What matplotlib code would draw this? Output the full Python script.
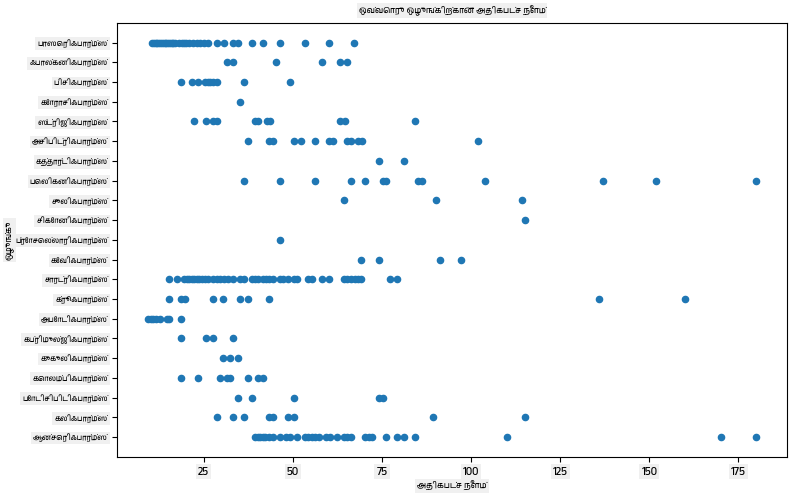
import numpy as np
import matplotlib
matplotlib.use("Agg")
import matplotlib.pyplot as plt
from matplotlib import font_manager

# pick a Tamil capable font if one is installed
tamil = [f.name for f in font_manager.fontManager.ttflist if "Tamil" in f.name]
plt.rcParams['font.family'] = tamil[:1] + ['DejaVu Sans']

# orders, bottom to top (same order the category axis draws them)
orders = [
    "ஆன்செரிஃபார்ம்ஸ்", "கலிஃபார்ம்ஸ்", "போடிசிபிடிஃபார்ம்ஸ்", "கொலம்பிஃபார்ம்ஸ்",
    "குகுலிஃபார்ம்ஸ்", "கப்ரிமுல்ஜிஃபார்ம்ஸ்", "அபோடிஃபார்ம்ஸ்", "க்ரூஃபார்ம்ஸ்",
    "சாரட்ரிஃபார்ம்ஸ்", "கேவிஃபார்ம்ஸ்", "ப்ரோசெல்லாரிஃபார்ம்ஸ்", "சிகோனிஃபார்ம்ஸ்",
    "சுலிஃபார்ம்ஸ்", "பெலிகனிஃபார்ம்ஸ்", "கத்தார்டிஃபார்ம்ஸ்", "அசிபிட்ரிஃபார்ம்ஸ்",
    "ஸ்ட்ரிஜிஃபார்ம்ஸ்", "கோராசிஃபார்ம்ஸ்", "பிசிஃபார்ம்ஸ்", "ஃபால்கனிஃபார்ம்ஸ்",
    "பாஸெரிஃபார்ம்ஸ்",
]

anseriformes = [39.3, 40.1, 40.7, 41.5, 42.2, 43.4, 44.5, 46.5, 48.2, 49.1, 51.3, 53.5,
                54.3, 55.5, 56.3, 57.4, 59.4, 60.3, 62.5, 64.4, 65.2, 66.4, 70.3, 71.4,
                72.2, 76.2, 79.2, 81.2, 84.3, 110, 170, 180]
galliformes = [28.6, 33.3, 36.4, 43.4, 44.5, 48.7, 50.4, 89.3, 115]
podicipediformes = [34.5, 38.4, 50.4, 74.2, 75.3]
columbiformes = [18.5, 23.5, 29.5, 31.4, 32.5, 37.5, 40.3, 41.5]
cuculiformes = [30.5, 32.5, 34.5]
caprimulgiformes = [18.5, 25.5, 27.5, 33.3]
apodiformes = [9.3, 10.2, 10.9, 11.5, 12.7, 14.6, 15.3, 18.5]
gruiformes = [15.3, 18.5, 19.7, 27.5, 30.5, 35.3, 37.5, 43.4, 136, 160]
charadriiformes = [15.3, 17.4, 19.5, 20.2, 20.8, 21.6, 22.3, 23.1, 23.8, 24.6, 25.3, 26.1,
                   27.5, 28.6, 29.5, 30.7, 31.9, 33.3, 35.3, 36.4, 38.4, 39.5, 40.2, 41.5,
                   42.6, 43.3, 44.5, 46.5, 47.2, 48.5, 50.4, 51.3, 54.3, 55.5, 58.3, 60.1,
                   64.4, 65.2, 66.4, 67.4, 68.4, 69.2, 77.3, 79.2]
gaviiformes = [69.2, 74.2, 91.3, 97.2]
procellariiformes = [46.5]
ciconiiformes = [115]
suliformes = [64.4, 90.2, 114.2]
pelecaniformes = [36.4, 46.5, 56.3, 66.4, 70.3, 75.2, 76.0, 85.0, 86.2, 104, 137, 152, 180]
cathartiformes = [74.2, 81.2]
accipitriformes = [37.5, 43.3, 44.5, 50.4, 52.4, 56.3, 60.1, 61.3, 65.2, 66.4, 68.4, 69.3, 102]
strigiformes = [22.4, 25.5, 27.5, 28.6, 39.3, 40.1, 42.8, 43.5, 63.3, 64.5, 84.3]
coraciiformes = [35.3]
piciformes = [18.5, 21.6, 23.5, 25.3, 26.1, 26.7, 27.5, 28.6, 36.4, 49.3]
falconiformes = [31.4, 33.3, 45.4, 58.3, 63.3, 65.2]
passeriformes = [10.5, 11, 11.5, 12, 12.5, 13, 13.5, 14, 14.5, 15, 15.5, 16, 16.5, 17, 18,
                 19, 19.5, 20, 21, 22, 23, 24, 25, 26.3, 28.6, 30.7, 33.3, 34.5, 38.4,
                 41.5, 46.5, 53.5, 60.1, 67.2]

lengths = [anseriformes, galliformes, podicipediformes, columbiformes, cuculiformes,
           caprimulgiformes, apodiformes, gruiformes, charadriiformes, gaviiformes,
           procellariiformes, ciconiiformes, suliformes, pelecaniformes, cathartiformes,
           accipitriformes, strigiformes, coraciiformes, piciformes, falconiformes,
           passeriformes]

x = []
y = []
for name, vals in zip(orders, lengths):
    x += vals
    y += [name] * len(vals)

box = dict(facecolor='#f0f0f0', edgecolor='none', pad=1.5)

fig = plt.figure(figsize=(7.93, 4.96), dpi=100)
ax = fig.add_axes([0.148, 0.079, 0.844, 0.875])
ax.scatter(x, y, s=20, color='#1f77b4')

ax.set_title("ஒவ்வொரு ஒழுங்கிற்கான அதிகபட்ச நீளம்", fontsize=6, pad=7, bbox=box)
ax.set_xlabel("அதிகபட்ச நீளம்", fontsize=6, labelpad=3, bbox=box)
ax.set_ylabel("ஒழுங்கு", fontsize=6, bbox=box)
ax.yaxis.set_label_coords(-0.155, 0.5)
ax.set_xticks([25, 50, 75, 100, 125, 150, 175])
ax.tick_params(axis='x', labelsize=8)
ax.tick_params(axis='y', labelsize=5.4)
for lbl in ax.get_xticklabels() + ax.get_yticklabels():
    lbl.set_bbox(box)

fig.savefig("out.png", dpi=100)
